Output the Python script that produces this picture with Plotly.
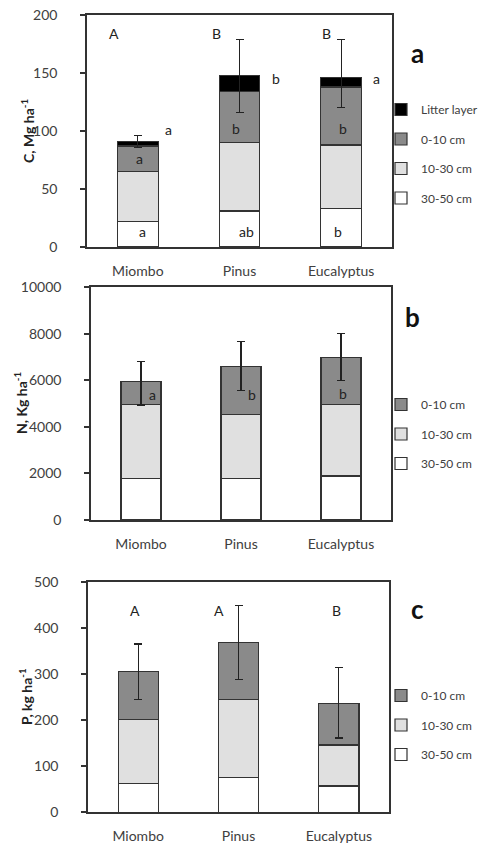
import plotly.graph_objects as go

OFF = 8  # page body margin
W, H = 487 - OFF, 843 - OFF
FONT = "Lato"
TXT = "#404040"

sites = ["Miombo", "Pinus", "Eucalyptus"]
layers_a = ["30-50 cm", "10-30 cm", "0-10 cm", "Litter layer"]
layers_np = ["30-50 cm", "10-30 cm", "0-10 cm"]
colors = {"30-50 cm": "#ffffff", "10-30 cm": "#e0e0e0", "0-10 cm": "#8a8a8a", "Litter layer": "#000000"}
ranks = {"Litter layer": 1, "0-10 cm": 2, "10-30 cm": 3, "30-50 cm": 4}

# Panel a: C, Mg ha-1 (stacked segments)
c_30_50 = [22, 31, 33]
c_10_30 = [43, 59, 55]
c_0_10 = [22, 44, 50]
c_litter = [4, 14, 8]
c_err_plus = [5, 31, 33]
c_err_minus = [5, 32, 26]

# Panel b: N, Kg ha-1
n_30_50 = [1780, 1800, 1890]
n_10_30 = [3190, 2750, 3080]
n_0_10 = [970, 2050, 2030]
n_err_plus = [880, 1060, 1020]
n_err_minus = [1000, 1040, 1010]

# Panel c: P, kg ha-1
p_30_50 = [63, 75, 57]
p_10_30 = [139, 170, 89]
p_0_10 = [104, 124, 90]
p_err_plus = [59, 80, 78]
p_err_minus = [61, 81, 75]

fig = go.Figure()

def px_x(px):
    return (px - OFF) / W

def px_y(py):
    return 1 - (py - OFF) / H

panels = [
    dict(xa="x", ya="y", leg="legend", layers=layers_a,
         vals=[c_30_50, c_10_30, c_0_10, c_litter], ep=c_err_plus, em=c_err_minus),
    dict(xa="x2", ya="y2", leg="legend2", layers=layers_np,
         vals=[n_30_50, n_10_30, n_0_10], ep=n_err_plus, em=n_err_minus),
    dict(xa="x3", ya="y3", leg="legend3", layers=layers_np,
         vals=[p_30_50, p_10_30, p_0_10], ep=p_err_plus, em=p_err_minus),
]

for p in panels:
    n = len(p["layers"])
    for i, (name, v) in enumerate(zip(p["layers"], p["vals"])):
        top = (i == n - 1)
        fig.add_trace(go.Bar(
            x=sites, y=v, name=name, xaxis=p["xa"], yaxis=p["ya"],
            legend=p["leg"], legendgroup=p["leg"] + name, legendrank=ranks[name],
            marker=dict(color=colors[name], line=dict(color="#333333", width=1.2)),
            width=0.4,
            error_y=dict(type="data", symmetric=False, array=p["ep"], arrayminus=p["em"],
                         color="#222222", thickness=1.2, width=4, visible=top),
            hoverinfo="skip",
        ))

fig.update_layout(barmode="stack")

dom = {
    "a": dict(x=(87, 392), y=(15, 247), rng=[0, 200], dt=50),
    "b": dict(x=(91, 391), y=(287.3, 520), rng=[0, 10000], dt=2000),
    "c": dict(x=(88, 389), y=(581.7, 812.3), rng=[0, 500], dt=100),
}
axis_common = dict(showline=True, mirror=True, linecolor="#333333", linewidth=1.5,
                   showgrid=False, zeroline=False, automargin=False, ticklabeloverflow="allow")
for k, (xa, ya) in zip(["a", "b", "c"], [("xaxis", "yaxis"), ("xaxis2", "yaxis2"), ("xaxis3", "yaxis3")]):
    d = dom[k]
    anchor_x = ya.replace("axis", "")
    anchor_y = xa.replace("axis", "")
    fig.layout[xa] = dict(domain=[px_x(d["x"][0]), px_x(d["x"][1])], anchor=anchor_x,
                          type="category", range=[-0.5, 2.5], ticks="",
                          tickfont=dict(family=FONT, size=14, color=TXT),
                          ticklabelstandoff=10, **axis_common)
    fig.layout[ya] = dict(domain=[px_y(d["y"][1]), px_y(d["y"][0])], anchor=anchor_y,
                          range=d["rng"], dtick=d["dt"], ticks="outside", ticklen=5,
                          tickcolor="#333333", tickwidth=1.5, tickformat="d",
                          tickfont=dict(family=FONT, size=14, color=TXT),
                          ticklabelstandoff=20, **axis_common)

ann = []
def letter(xref, yref, x, y, t, size=14):
    ann.append(dict(xref=xref, yref=yref, x=x, y=y, text=t, showarrow=False,
                    font=dict(family=FONT, size=size, color="#222222")))

# Panel a letters
for x, y, t in [(-0.23, 184, "A"), (0.77, 184, "B"), (1.86, 184, "B"),
                (0.30, 101, "a"), (1.36, 145, "b"), (2.35, 145, "a"),
                (0.02, 76, "a"), (0.97, 102, "b"), (2.02, 102, "b"),
                (0.05, 13, "a"), (1.07, 13, "ab"), (1.97, 13, "b")]:
    letter("x", "y", x, y, t)
# Panel b letters
for x, y, t in [(0.11, 5400, "a"), (1.11, 5400, "b"), (2.02, 5450, "b")]:
    letter("x2", "y2", x, y, t)
# Panel c letters
for x, y, t in [(-0.03, 437, "A"), (0.81, 437, "A"), (1.98, 437, "B")]:
    letter("x3", "y3", x, y, t)

# Panel labels
for (px, py, t) in [(417, 53, "a"), (412, 317, "b"), (417, 609, "c")]:
    ann.append(dict(xref="paper", yref="paper", x=px_x(px), y=px_y(py), text="<b>%s</b>" % t,
                    xanchor="center", yanchor="middle",
                    showarrow=False, font=dict(family=FONT, size=26, color="#111111")))

# Y axis titles
for (px, py, t) in [(27, 131, "<b>C, Mg ha<sup>-1</sup></b>"), (20, 403, "<b>N, Kg ha<sup>-1</sup></b>"),
                    (25, 697, "<b>P, kg ha<sup>-1</sup></b>")]:
    ann.append(dict(xref="paper", yref="paper", x=px_x(px), y=px_y(py), text=t, textangle=-90,
                    xanchor="center", yanchor="middle",
                    showarrow=False, font=dict(family=FONT, size=14, color="#222222")))

fig.update_layout(annotations=ann)

leg_common = dict(bgcolor="rgba(0,0,0,0)", borderwidth=0, xanchor="left", yanchor="top",
                  font=dict(family=FONT, size=12, color=TXT), traceorder="grouped",
                  tracegroupgap=10.5, itemclick=False, itemdoubleclick=False)
fig.update_layout(
    legend=dict(x=px_x(381), y=px_y(95), **leg_common),
    legend2=dict(x=px_x(381), y=px_y(390), **leg_common),
    legend3=dict(x=px_x(381), y=px_y(681), **leg_common),
)

fig.update_layout(width=W, height=H, margin=dict(l=0, r=0, t=0, b=0, autoexpand=False),
                  plot_bgcolor="white", paper_bgcolor="white", showlegend=True,
                  font=dict(family=FONT, color=TXT))

fig.write_html("out.html")
